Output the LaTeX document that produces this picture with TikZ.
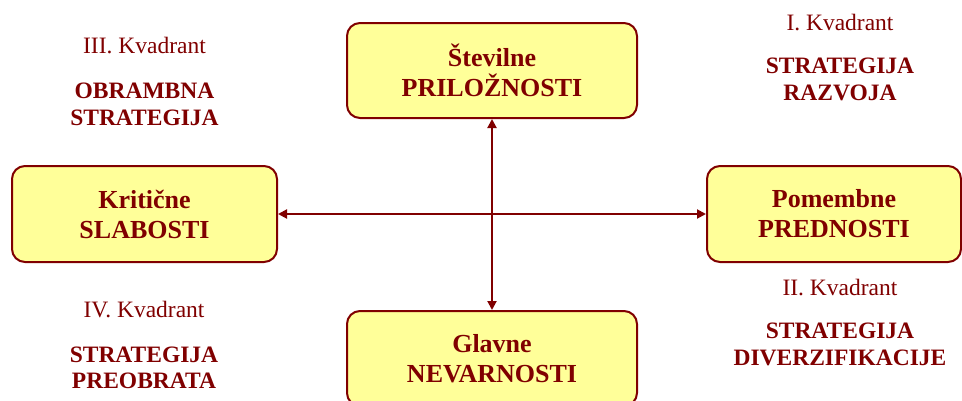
\documentclass[tikz,border=0pt]{standalone}
\usepackage{fontspec}
\setmainfont{Liberation Serif}
\usetikzlibrary{arrows.meta}
\definecolor{maroon}{HTML}{800000}
\definecolor{paleyellow}{HTML}{FFFF99}
\tikzset{
  factor/.style={draw=maroon, fill=paleyellow, line width=2pt, rounded corners=13pt,
    text=maroon, align=center, inner sep=0pt,
    font=\fontsize{26}{30}\selectfont\bfseries},
  quadlabel/.style={text=maroon, inner sep=0pt, anchor=base,
    font=\fontsize{23.5}{27}\selectfont},
  quadtitle/.style={text=maroon, inner sep=0pt, anchor=base, align=center,
    font=\fontsize{23.5}{27}\selectfont\bfseries},
  axis/.style={draw=maroon, line width=2pt,
    {Triangle[length=9pt,width=9pt]}-{Triangle[length=9pt,width=9pt]}}
}
\begin{document}
\begin{tikzpicture}[x=1pt, y=-1pt]
  \useasboundingbox (0,0) rectangle (962,400);

  % the four factor boxes
  \node[factor, minimum width=290pt, minimum height=95pt] (opp) at (492,70.5)
    {Številne\\PRILOŽNOSTI};
  \node[factor, minimum width=265pt, minimum height=96pt] (weak) at (144.5,214)
    {Kritične\\SLABOSTI};
  \node[factor, minimum width=254pt, minimum height=96pt] (str) at (834,214)
    {Pomembne\\PREDNOSTI};
  \node[factor, minimum width=290pt, minimum height=95pt] (thr) at (492,358.5)
    {Glavne\\NEVARNOSTI};

  % axes between the boxes
  \draw[axis] (weak.east) -- (str.west);
  \draw[axis] (opp.south) -- (thr.north);

  % quadrant captions
  \node[quadlabel] (q3) at (144.5,53) {III. Kvadrant};
  \node[quadtitle] (s3a) at (144.5,98) {OBRAMBNA};
  \node[quadtitle] (s3b) at (144.5,125) {STRATEGIJA};

  \node[quadlabel] (q1) at (840,30) {I. Kvadrant};
  \node[quadtitle] (s1a) at (840,73) {STRATEGIJA};
  \node[quadtitle] (s1b) at (840,100) {RAZVOJA};

  \node[quadlabel] (q4) at (144,317) {IV. Kvadrant};
  \node[quadtitle] (s4a) at (144,362) {STRATEGIJA};
  \node[quadtitle] (s4b) at (144,388) {PREOBRATA};

  \node[quadlabel] (q2) at (840,295) {II. Kvadrant};
  \node[quadtitle] (s2a) at (840,338) {STRATEGIJA};
  \node[quadtitle] (s2b) at (840,365) {DIVERZIFIKACIJE};
\end{tikzpicture}
\end{document}
